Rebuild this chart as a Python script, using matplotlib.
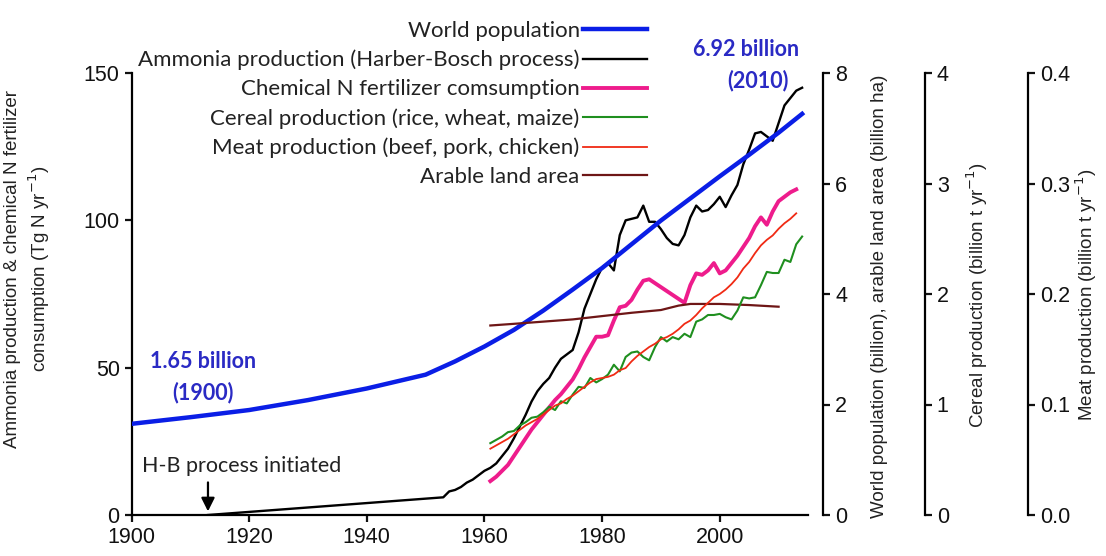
import matplotlib
matplotlib.use('Agg')
import matplotlib.pyplot as plt
from matplotlib.ticker import FixedLocator, FormatStrFormatter

plt.rcParams['font.family'] = ['Liberation Sans', 'DejaVu Sans']
TXT = ['Lato', 'DejaVu Sans']

# ---------------- data ----------------
pop_years = [1900, 1910, 1920, 1930, 1940, 1950, 1955, 1960, 1965, 1970, 1975,
             1980, 1985, 1990, 1995, 2000, 2005, 2010, 2014]
pop_values = [1.65, 1.77, 1.90, 2.08, 2.29, 2.54, 2.78, 3.05, 3.35, 3.70, 4.08,
              4.47, 4.90, 5.33, 5.73, 6.13, 6.52, 6.92, 7.26]  # billion

amm_years = [1913] + list(range(1953, 2015))
amm_values = [0,
              6, 8, 8.5, 9.5, 11, 12, 13.5,                      # 1953-1959
              15, 16, 17.5, 20, 22.5, 26, 30, 34, 38.5, 42,      # 1960-1969
              44.5, 46.5, 50, 53, 54.5, 56, 62, 70, 75, 80,      # 1970-1979
              84, 85.5, 83, 95, 100, 100.5, 101, 105, 99.5, 99.5,  # 1980-1989
              97, 94, 92, 91.5, 95, 101, 105, 103, 103.5, 105.5,   # 1990-1999
              108, 104.5, 108.5, 112, 119, 124, 129.5, 130, 128.5, 127,  # 2000-2009
              133, 139, 141.5, 144, 145]                           # 2010-2014

fert_years = list(range(1961, 1989)) + list(range(1994, 2014))
fert_values = [11.5, 13, 15, 17, 20, 23, 26, 29, 31.5,             # 1961-1969
               34, 36.5, 39, 41, 43.5, 46, 49.5, 53.5, 57, 60.5,   # 1970-1979
               60.5, 61, 66, 70.5, 71, 73, 76.5, 79.5, 80,         # 1980-1988
               72, 78, 82, 81.5, 83, 85.5,                         # 1994-1999
               82, 83, 85.5, 88, 91, 94, 98, 101, 98.5, 103,       # 2000-2009
               106.5, 108, 109.5, 110.5]                           # 2010-2013

cereal_years = list(range(1961, 2015))
cereal_values = [0.65, 0.68, 0.71, 0.75, 0.76, 0.81, 0.84, 0.88, 0.89, 0.93,
                 0.98, 0.95, 1.03, 1.01, 1.09, 1.16, 1.15, 1.24, 1.20, 1.23,
                 1.27, 1.36, 1.30, 1.43, 1.47, 1.48, 1.43, 1.40, 1.52, 1.61,
                 1.57, 1.61, 1.59, 1.64, 1.61, 1.75, 1.77, 1.81, 1.81, 1.82,
                 1.79, 1.77, 1.85, 1.97, 1.96, 1.97, 2.08, 2.20, 2.19, 2.19,
                 2.31, 2.29, 2.45, 2.52]  # billion t

meat_years = list(range(1961, 2014))
meat_values = [0.060, 0.063, 0.066, 0.069, 0.073, 0.077, 0.081, 0.084, 0.087, 0.091,
               0.095, 0.099, 0.101, 0.105, 0.108, 0.112, 0.116, 0.120, 0.123, 0.124,
               0.125, 0.127, 0.131, 0.133, 0.139, 0.144, 0.148, 0.152, 0.155, 0.159,
               0.161, 0.164, 0.168, 0.173, 0.176, 0.181, 0.187, 0.192, 0.197, 0.200,
               0.204, 0.209, 0.215, 0.223, 0.229, 0.237, 0.244, 0.249, 0.253, 0.259,
               0.264, 0.268, 0.273]  # billion t

land_years = [1961, 1965, 1970, 1975, 1980, 1985, 1990, 1993, 1995, 2000, 2005, 2010]
land_values = [3.43, 3.46, 3.50, 3.54, 3.60, 3.66, 3.71, 3.79, 3.82, 3.82, 3.80, 3.77]  # billion ha

legend_labels = ['World population',
                 'Ammonia production (Harber-Bosch process)',
                 'Chemical N fertilizer comsumption',
                 'Cereal production (rice, wheat, maize)',
                 'Meat production (beef, pork, chicken)',
                 'Arable land area']

x_ticks = [1900, 1920, 1940, 1960, 1980, 2000]
left_ticks = [0, 50, 100, 150]
pop_ticks = [0, 2, 4, 6, 8]
cereal_ticks = [0, 1, 2, 3, 4]
meat_ticks = [0.0, 0.1, 0.2, 0.3, 0.4]

# ---------------- layout ----------------
W, H = 1106, 556
fig = plt.figure(figsize=(W / 100, H / 100), dpi=100)
L, R, B, T = 131.5, 808, 515, 73
ax = fig.add_axes([L / W, 1 - B / H, (R - L) / W, (B - T) / H])


def fx(px):
    return px / W


def fy(py):
    return 1 - py / H


SPW = 1.6
TICKSIZE = 15.5

ax.set_xlim(1900, 2015)
ax.set_ylim(0, 150)
ax.xaxis.set_major_locator(FixedLocator(x_ticks))
ax.yaxis.set_major_locator(FixedLocator(left_ticks))
for s in ['top', 'right']:
    ax.spines[s].set_visible(False)
for s in ['left', 'bottom']:
    ax.spines[s].set_linewidth(SPW)
ax.tick_params(direction='out', length=5, width=SPW, labelsize=TICKSIZE, colors='#111111')

l_amm, = ax.plot(amm_years, amm_values, color='black', lw=1.7)
l_fert, = ax.plot(fert_years, fert_values, color='#ee1c8c', lw=2.8)


def make_twin(px_spine, ylim, ticks, fmt):
    a = ax.twinx()
    for s in ['left', 'top', 'bottom']:
        a.spines[s].set_visible(False)
    a.spines['right'].set_position(('axes', (px_spine - L) / (R - L)))
    a.spines['right'].set_linewidth(SPW)
    a.set_ylim(*ylim)
    a.yaxis.set_major_locator(FixedLocator(ticks))
    a.yaxis.set_major_formatter(FormatStrFormatter(fmt))
    a.tick_params(direction='out', length=5, width=SPW, labelsize=TICKSIZE, colors='#111111')
    return a


axp = make_twin(823.3, (0, 8), pop_ticks, '%d')
axc = make_twin(925, (0, 4), cereal_ticks, '%d')
axm = make_twin(1028, (0, 0.4), meat_ticks, '%.1f')

l_pop, = axp.plot(pop_years, pop_values, color='#0a1ee6', lw=3.2, zorder=1)
l_land, = axp.plot(land_years, land_values, color='#6e1616', lw=1.6)
l_cer, = axc.plot(cereal_years, cereal_values, color='#1f8f1f', lw=1.5)
l_meat, = axm.plot(meat_years, meat_values, color='#f02a14', lw=1.3)

# ---------------- axis labels ----------------
LAB = 13.5
fig.text(fx(28), fy(269),
         'Ammonia production & chemical N fertilizer\nconsumption (Tg N yr$^{-1}$)',
         rotation=90, ha='center', va='center', fontsize=LAB, linespacing=1.3,
         color='#222222')
fig.text(fx(880), fy(296), 'World population (billion), arable land area (billion ha)',
         rotation=90, ha='center', va='center', fontsize=LAB, color='#222222')
fig.text(fx(977), fy(295), 'Cereal production (billion t yr$^{-1}$)',
         rotation=90, ha='center', va='center', fontsize=LAB, color='#222222')
fig.text(fx(1086), fy(295), 'Meat production (billion t yr$^{-1}$)',
         rotation=90, ha='center', va='center', fontsize=LAB, color='#222222')

# ---------------- annotations ----------------
BLUE = '#2a2ac4'
ANN = 15.5
fig.text(fx(203), fy(362), '1.65 billion', ha='center', va='center', fontsize=ANN,
         fontweight='bold', color=BLUE, family=TXT)
fig.text(fx(203), fy(393), '(1900)', ha='center', va='center', fontsize=ANN,
         fontweight='bold', color=BLUE, family=TXT)
fig.text(fx(746), fy(49), '6.92 billion', ha='center', va='center', fontsize=ANN,
         fontweight='bold', color=BLUE, family=TXT)
fig.text(fx(758), fy(81), '(2010)', ha='center', va='center', fontsize=ANN,
         fontweight='bold', color=BLUE, family=TXT)
fig.text(fx(142), fy(466), 'H-B process initiated', ha='left', va='center', fontsize=15.5,
         color='#222222', family=TXT)
ax.annotate('', xy=(1913, 0.3), xytext=(1913, 12),
            arrowprops=dict(arrowstyle='-|>', color='black', lw=1.6, mutation_scale=20))

# ---------------- legend ----------------
leg = axm.legend([l_pop, l_amm, l_fert, l_cer, l_meat, l_land], legend_labels,
                 loc='upper right', bbox_to_anchor=(fx(647), fy(21)),
                 bbox_transform=fig.transFigure, frameon=False, markerfirst=False,
                 handlelength=2.9, handletextpad=0.13, labelspacing=0.4,
                 borderpad=0, borderaxespad=0,
                 prop=dict(family=TXT, size=16))
for t in leg.get_texts():
    t.set_color('#222222')

fig.savefig('out.png', dpi=100)
